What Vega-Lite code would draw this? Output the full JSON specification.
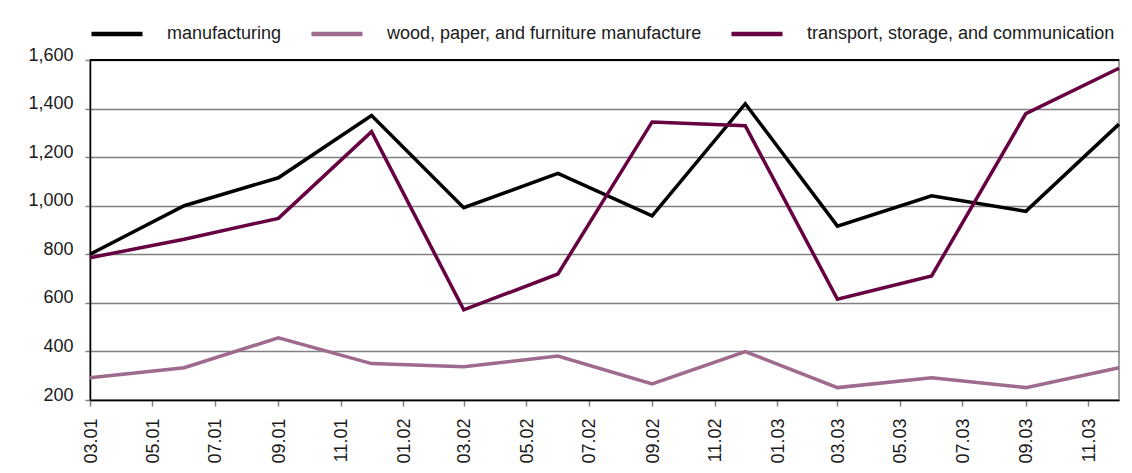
{
  "$schema": "https://vega.github.io/schema/vega-lite/v6.json",
  "width": 1029,
  "height": 340,
  "autosize": {"type": "none"},
  "padding": {"left": 90, "top": 60, "right": 13, "bottom": 73},
  "background": "white",
  "config": {
    "font": "Liberation Sans",
    "view": {"stroke": "#808080", "strokeWidth": 1.5}
  },
  "data": {
    "values": [
      {"date": "2001-03-01", "series": "manufacturing", "value": 800},
      {"date": "2001-06-01", "series": "manufacturing", "value": 1000},
      {"date": "2001-09-01", "series": "manufacturing", "value": 1115},
      {"date": "2001-12-01", "series": "manufacturing", "value": 1371},
      {"date": "2002-03-01", "series": "manufacturing", "value": 992},
      {"date": "2002-06-01", "series": "manufacturing", "value": 1133},
      {"date": "2002-09-01", "series": "manufacturing", "value": 958},
      {"date": "2002-12-01", "series": "manufacturing", "value": 1420},
      {"date": "2003-03-01", "series": "manufacturing", "value": 916},
      {"date": "2003-06-01", "series": "manufacturing", "value": 1041},
      {"date": "2003-09-01", "series": "manufacturing", "value": 977},
      {"date": "2003-12-01", "series": "manufacturing", "value": 1336},
      {"date": "2001-03-01", "series": "wood, paper, and furniture manufacture", "value": 292},
      {"date": "2001-06-01", "series": "wood, paper, and furniture manufacture", "value": 333},
      {"date": "2001-09-01", "series": "wood, paper, and furniture manufacture", "value": 456},
      {"date": "2001-12-01", "series": "wood, paper, and furniture manufacture", "value": 350},
      {"date": "2002-03-01", "series": "wood, paper, and furniture manufacture", "value": 337},
      {"date": "2002-06-01", "series": "wood, paper, and furniture manufacture", "value": 381},
      {"date": "2002-09-01", "series": "wood, paper, and furniture manufacture", "value": 266},
      {"date": "2002-12-01", "series": "wood, paper, and furniture manufacture", "value": 399},
      {"date": "2003-03-01", "series": "wood, paper, and furniture manufacture", "value": 251},
      {"date": "2003-06-01", "series": "wood, paper, and furniture manufacture", "value": 292},
      {"date": "2003-09-01", "series": "wood, paper, and furniture manufacture", "value": 251},
      {"date": "2003-12-01", "series": "wood, paper, and furniture manufacture", "value": 333},
      {"date": "2001-03-01", "series": "transport, storage, and communication", "value": 786},
      {"date": "2001-06-01", "series": "transport, storage, and communication", "value": 862},
      {"date": "2001-09-01", "series": "transport, storage, and communication", "value": 948},
      {"date": "2001-12-01", "series": "transport, storage, and communication", "value": 1305},
      {"date": "2002-03-01", "series": "transport, storage, and communication", "value": 571},
      {"date": "2002-06-01", "series": "transport, storage, and communication", "value": 719},
      {"date": "2002-09-01", "series": "transport, storage, and communication", "value": 1345},
      {"date": "2002-12-01", "series": "transport, storage, and communication", "value": 1329},
      {"date": "2003-03-01", "series": "transport, storage, and communication", "value": 615},
      {"date": "2003-06-01", "series": "transport, storage, and communication", "value": 711},
      {"date": "2003-09-01", "series": "transport, storage, and communication", "value": 1379},
      {"date": "2003-12-01", "series": "transport, storage, and communication", "value": 1566}
    ]
  },
  "layer": [
    {
      "mark": {"type": "line", "strokeWidth": 3.5, "clip": false},
      "encoding": {
        "x": {
          "field": "date",
          "type": "temporal",
          "scale": {
            "type": "utc",
            "nice": false,
            "domain": [
              {"year": 2001, "month": 3, "date": 1, "utc": true},
              {"year": 2003, "month": 12, "date": 1, "utc": true}
            ]
          },
          "axis": {
            "title": null,
            "values": [
              {"year": 2001, "month": 3, "date": 1, "utc": true},
              {"year": 2001, "month": 5, "date": 1, "utc": true},
              {"year": 2001, "month": 7, "date": 1, "utc": true},
              {"year": 2001, "month": 9, "date": 1, "utc": true},
              {"year": 2001, "month": 11, "date": 1, "utc": true},
              {"year": 2002, "month": 1, "date": 1, "utc": true},
              {"year": 2002, "month": 3, "date": 1, "utc": true},
              {"year": 2002, "month": 5, "date": 1, "utc": true},
              {"year": 2002, "month": 7, "date": 1, "utc": true},
              {"year": 2002, "month": 9, "date": 1, "utc": true},
              {"year": 2002, "month": 11, "date": 1, "utc": true},
              {"year": 2003, "month": 1, "date": 1, "utc": true},
              {"year": 2003, "month": 3, "date": 1, "utc": true},
              {"year": 2003, "month": 5, "date": 1, "utc": true},
              {"year": 2003, "month": 7, "date": 1, "utc": true},
              {"year": 2003, "month": 9, "date": 1, "utc": true},
              {"year": 2003, "month": 11, "date": 1, "utc": true}
            ],
            "labelExpr": "utcFormat(datum.value, '%m.%y')",
            "grid": false,
            "labelAngle": 270,
            "labelAlign": "right",
            "labelBaseline": "middle",
            "labelFontSize": 18,
            "labelColor": "#1a1a1a",
            "labelPadding": 12,
            "labelOffset": 1,
            "labelFlush": false,
            "labelOverlap": false,
            "tickSize": 6,
            "tickColor": "#808080",
            "tickWidth": 1.5,
            "domainColor": "#000000",
            "domainWidth": 1.5
          }
        },
        "y": {
          "field": "value",
          "type": "quantitative",
          "scale": {"domain": [200, 1600], "nice": false, "zero": false},
          "axis": {
            "title": null,
            "values": [200, 400, 600, 800, 1000, 1200, 1400, 1600],
            "format": ",d",
            "grid": true,
            "gridColor": "#808080",
            "gridWidth": 1.5,
            "labelFontSize": 18,
            "labelColor": "#1a1a1a",
            "labelPadding": 12,
            "labelOffset": -5,
            "labelFlush": false,
            "tickSize": 5,
            "tickColor": "#808080",
            "tickWidth": 1.5,
            "domainColor": "#000000",
            "domainWidth": 1.5
          }
        },
        "color": {
          "field": "series",
          "type": "nominal",
          "sort": ["manufacturing", "wood, paper, and furniture manufacture", "transport, storage, and communication"],
          "scale": {
            "domain": ["manufacturing", "wood, paper, and furniture manufacture", "transport, storage, and communication"],
            "range": ["#000000", "#9e6a8e", "#660040"]
          },
          "legend": {
            "title": null,
            "orient": "none",
            "direction": "horizontal",
            "legendX": -1,
            "legendY": -54,
            "padding": 0,
            "symbolType": "stroke",
            "symbolSize": 2601,
            "symbolStrokeWidth": 4.5,
            "labelFontSize": 18,
            "labelColor": "#1a1a1a",
            "labelOffset": 22,
            "columnPadding": 20,
            "labelLimit": 500
          }
        }
      }
    },
    {
      "mark": {"type": "rule", "color": "#000000", "strokeWidth": 1.5},
      "encoding": {"y": {"datum": 1600, "type": "quantitative"}}
    }
  ]
}
